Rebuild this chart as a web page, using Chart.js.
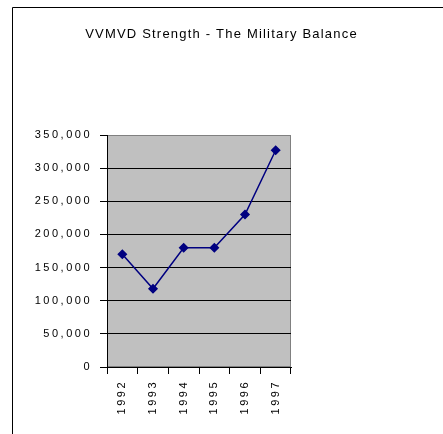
<!DOCTYPE html>
<html>
<head>
<meta charset="utf-8">
<style>
  html, body { margin: 0; padding: 0; background: #fff; }
  #wrap { position: relative; width: 443px; height: 434px; }
</style>
<script src="https://cdn.jsdelivr.net/npm/chart.js@4/dist/chart.umd.min.js"></script>
</head>
<body>
<div id="wrap"><canvas id="chart" width="443" height="434"></canvas></div>
<script>
// VV MVD strength by year
const years = ['1992', '1993', '1994', '1995', '1996', '1997'];
const strength = [170000, 118000, 180000, 180000, 230000, 327000];
const yTicks = [0, 50000, 100000, 150000, 200000, 250000, 300000, 350000];

const FONT = 'Liberation Sans, Arial, sans-serif';

// grey plot area, outer frame, and the wide letter spacing of the original
const plotBackground = {
    id: 'plotBackground',
    beforeDraw(chart) {
        const { ctx, chartArea: a } = chart;
        ctx.save();
        ctx.fillStyle = '#c0c0c0';
        ctx.fillRect(a.left, a.top, a.right - a.left, a.bottom - a.top);
        ctx.strokeStyle = '#808080';
        ctx.lineWidth = 1;
        ctx.strokeRect(a.left + 0.5, a.top + 0.5, a.right - a.left - 1, a.bottom - a.top - 1);
        // chart frame
        ctx.strokeStyle = '#000';
        ctx.beginPath();
        ctx.moveTo(12.5, 434);
        ctx.lineTo(12.5, 7.5);
        ctx.lineTo(443, 7.5);
        ctx.stroke();
        ctx.restore();
        // tick labels are spread out
        ctx.letterSpacing = '2.5px';
        // title gets a bit less spacing
        const title = chart.titleBlock;
        if (title && !title._wrapped) {
            const draw = title.draw.bind(title);
            title.draw = function() {
                const old = ctx.letterSpacing;
                ctx.letterSpacing = '1.2px';
                draw();
                ctx.letterSpacing = old;
            };
            title._wrapped = true;
        }
    }
};

new Chart(document.getElementById('chart'), {
    type: 'line',
    data: {
        labels: years,
        datasets: [{
            data: strength,
            borderColor: '#000080',
            borderWidth: 1.5,
            backgroundColor: '#000080',
            pointStyle: 'rectRot',
            pointRadius: 4,
            pointBorderColor: '#000080',
            pointBackgroundColor: '#000080',
            tension: 0,
            yAxisID: 'y'
        }]
    },
    options: {
        responsive: false,
        animation: false,
        layout: { padding: 0 },
        plugins: {
            legend: { display: false },
            tooltip: { enabled: false },
            title: {
                display: true,
                text: 'VVMVD Strength - The Military Balance',
                color: '#000',
                font: { family: FONT, size: 13, weight: 'normal', lineHeight: 1.2 },
                padding: { top: 27, bottom: 92.4 }
            }
        },
        scales: {
            x: {
                offset: true,
                grid: {
                    offset: true,
                    drawOnChartArea: false,
                    drawTicks: true,
                    tickLength: 7,
                    tickColor: '#000',
                    tickWidth: 1
                },
                border: { display: true, color: '#000', width: 1 },
                ticks: {
                    color: '#000',
                    font: { family: FONT, size: 11 },
                    minRotation: 90,
                    maxRotation: 90,
                    padding: 6,
                    autoSkip: false
                },
                afterFit(scale) { scale.height = 67; }
            },
            y: {
                position: 'left',
                min: 0,
                max: 350000,
                afterBuildTicks(scale) { scale.ticks = yTicks.map(v => ({ value: v })); },
                grid: {
                    color: ctx => (ctx.tick && ctx.tick.value === 350000) ? '#808080' : '#000',
                    lineWidth: 1,
                    tickLength: 7,
                    tickColor: '#000'
                },
                border: { display: true, color: '#000', width: 1 },
                ticks: {
                    color: '#000',
                    font: { family: FONT, size: 11 },
                    padding: 8,
                    callback: v => v.toLocaleString('en-US')
                },
                afterFit(scale) { scale.width = 107; }
            },
            spacer: {
                position: 'right',
                display: true,
                grid: { display: false, drawOnChartArea: false },
                border: { display: false },
                ticks: { display: false },
                afterFit(scale) { scale.width = 152; }
            }
        }
    },
    plugins: [plotBackground]
});
</script>
</body>
</html>
